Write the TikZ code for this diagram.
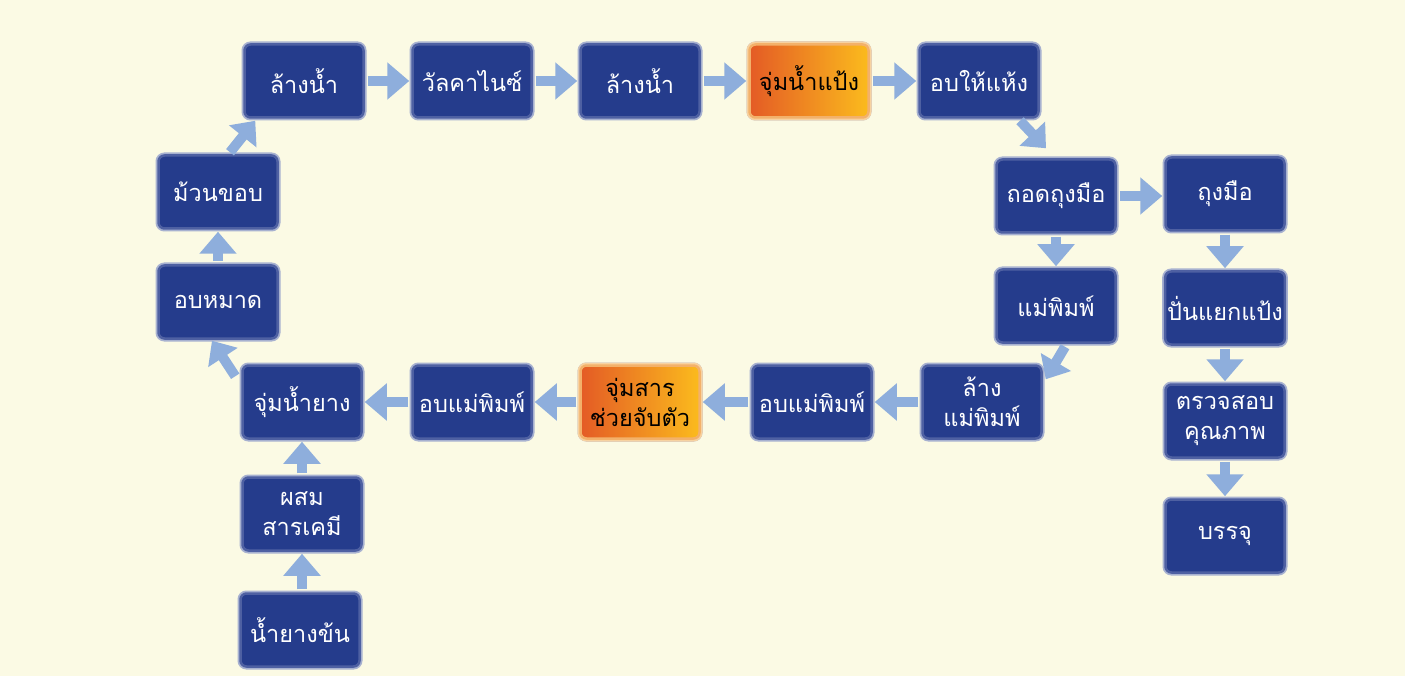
\documentclass[tikz,border=0pt]{standalone}
\usepackage{fontspec}
\newfontfamily\thaifont[Script=Thai]{Loma}
\usetikzlibrary{arrows.meta,calc}
\definecolor{bg}{HTML}{FBFAE4}
\definecolor{boxblue}{HTML}{253C8C}
\definecolor{glowA}{HTML}{4E60A2}
\definecolor{glowB}{HTML}{A7B1D0}
\definecolor{arrblue}{HTML}{8EAEDC}
\definecolor{orL}{HTML}{E45B25}
\definecolor{orR}{HTML}{FBBB1D}
\definecolor{orglow}{HTML}{F3B16A}
\tikzset{
  box/.style={rectangle, rounded corners=6pt, minimum width=119pt, minimum height=73pt,
    inner sep=2pt, align=center, text=white,
    font=\thaifont\fontsize{23.5}{30}\selectfont,
    fill=boxblue, draw=glowA, line width=2.5pt,
    preaction={draw=glowB, line width=6pt}},
  obox/.style={box, text=black, draw=orglow, left color=orL, right color=orR,
    preaction={draw=orglow!55!bg, line width=6pt}},
  arr/.style={draw=arrblue, line width=10pt, -{Triangle[length=22pt,width=36pt]},
    shorten <=3pt, shorten >=2pt},
  arrd/.style={draw=arrblue, line width=10pt, -{Triangle[length=20pt,width=34pt]}}
}
\begin{document}
\begin{tikzpicture}[x=1pt,y=-1pt]
\useasboundingbox (0,0) rectangle (1405,676);
\fill[bg] (0,0) rectangle (1405,676);
% top row
\node[box] (t1) at (304,81) {ล้างน้ำ};
\node[box] (t2) at (472,81) {วัลคาไนซ์};
\node[box] (t3) at (640,81) {ล้างน้ำ};
\node[obox] (t4) at (809,81) {จุ่มน้ำแป้ง};
\node[box] (t5) at (979,81) {อบให้แห้ง};
% right part
\node[box] (r1) at (1056,196) {ถอดถุงมือ};
\node[box] (r2) at (1225,194) {ถุงมือ};
\node[box] (r3) at (1056,306) {แม่พิมพ์};
\node[box] (r4) at (1225,308) {ปั่นแยกแป้ง};
\node[box] (r5) at (1225,421) {ตรวจสอบ\\คุณภาพ};
\node[box] (r6) at (1225,536) {บรรจุ};
% bottom row
\node[box] (b1) at (982,402) {ล้าง\\แม่พิมพ์};
\node[box] (b2) at (812,402) {อบแม่พิมพ์};
\node[obox] (b3) at (640,402) {จุ่มสาร\\ช่วยจับตัว};
\node[box] (b4) at (472,402) {อบแม่พิมพ์};
\node[box] (b5) at (302,402) {จุ่มน้ำยาง};
% left part
\node[box] (l1) at (302,514) {ผสม\\สารเคมี};
\node[box] (l2) at (300,630) {น้ำยางข้น};
\node[box] (l3) at (218,302) {อบหมาด};
\node[box] (l4) at (218,192) {ม้วนขอบ};
% connectors
\draw[arr] (t1) -- (t2);
\draw[arr] (t2) -- (t3);
\draw[arr] (t3) -- (t4);
\draw[arr] (t4) -- (t5);
\draw[arrd] ($(t5.south)+(41,2)$) -- ($(r1.north)+(-10,-10)$);
\draw[arr] (r1.east) -- (r2.west |- r1.east);
\draw[arr] (r1) -- (r3);
\draw[arr] (r2) -- (r2 |- r4.north);
\draw[arr] (r4) -- (r5);
\draw[arr] (r5) -- (r6);
\draw[arrd] ($(r3.south)+(9,3)$) -- ($(b1.north east)+(3,15)$);
\draw[arr] (b1) -- (b2);
\draw[arr] (b2) -- (b3);
\draw[arr] (b3) -- (b4);
\draw[arr] (b4) -- (b5);
\draw[arr] (l2.north -| l1) -- (l1);
\draw[arr] (l1) -- (b5);
\draw[arrd] ($(b5.north west)+(-6,12)$) -- ($(l3.south)+(-6,1)$);
\draw[arr] (l3) -- (l4);
\draw[arrd] ($(l4.north)+(12,-2)$) -- ($(t1.south west)+(12,2)$);
\end{tikzpicture}
\end{document}
